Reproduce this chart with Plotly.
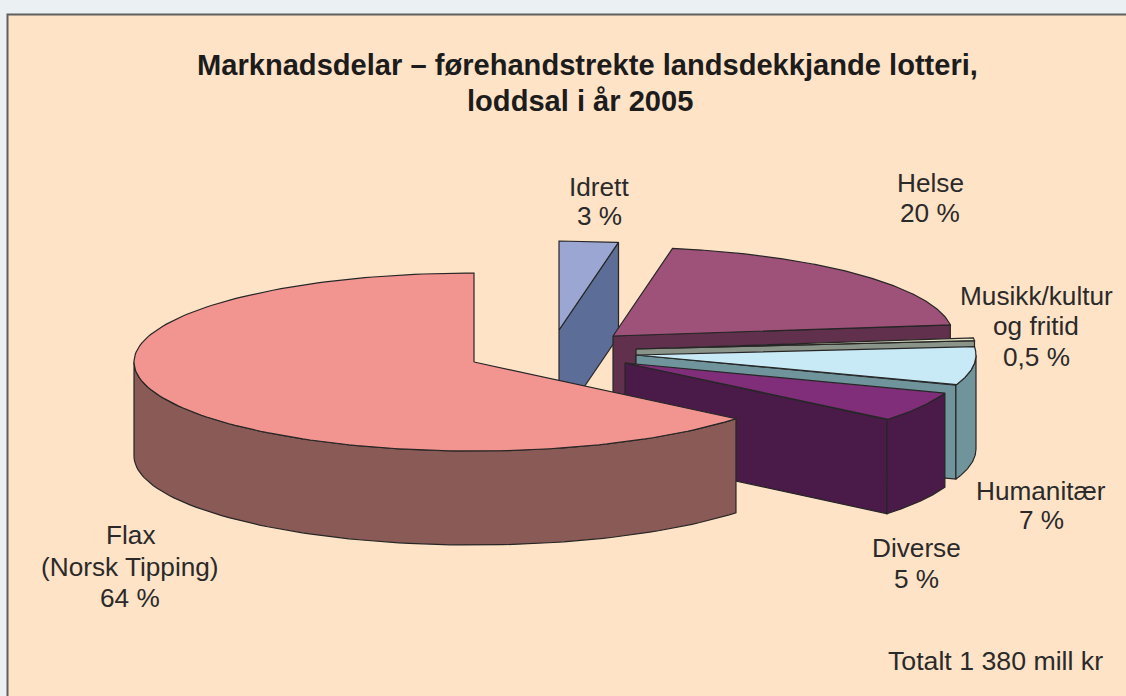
import math
import plotly.graph_objects as go

# ---- data ----
slice_names = ["Idrett", "Helse", "Musikk/kultur og fritid", "Humanitær", "Diverse", "Flax"]
slice_values = [2.8, 20.2, 0.5, 7.0, 5.5, 64.0]  # clockwise from 12 o'clock, share in percent

label_lines = [["Idrett", "3 %"], ["Helse", "20 %"], ["Musikk/kultur", "og fritid", "0,5 %"],
               ["Humanitær", "7 %"], ["Diverse", "5 %"], ["Flax", "(Norsk Tipping)", "64 %"]]
title_lines = ["<b>Marknadsdelar – førehandstrekte landsdekkjande lotteri,</b>",
               "<b>loddsal i år 2005</b>"]
note_text = "Totalt 1 380 mill kr"

# ---- styles / layout ----
top_colors = ["#9BA6D3", "#9F5279", "#E6E6C8", "#C8E9F6", "#802E79", "#F29591"]
side_colors = ["#5C6E97", "#61304C", "#8B9488", "#6F949C", "#4A1B49", "#8A5B56"]
centers = [(559, 330), (613, 336), (636, 349), (636, 355), (625, 363), (474, 362)]
label_x = [599, 930, 1036, 1041, 916, 130]
label_y = [[187, 216], [183, 213], [296, 326, 357], [491, 520], [548, 579], [535, 567, 598]]
title_x = [587, 580]
title_y = [65, 101]
RX, RY, DEPTH = 340.0, 89.0, 94.0
EDGE = "#262626"
FONT = "Liberation Sans"
W, H = 1126, 696


def pt(c, deg, drop=0.0):
    a = math.radians(deg)
    return c[0] + RX * math.cos(a), c[1] - RY * math.sin(a) + drop


def arc(c, a0, a1, drop=0.0, n=80):
    return [pt(c, a0 + (a1 - a0) * i / n, drop) for i in range(n + 1)]


def poly(fig, pts, color, name):
    xs = [p[0] for p in pts] + [pts[0][0]]
    ys = [p[1] for p in pts] + [pts[0][1]]
    fig.add_trace(go.Scatter(x=xs, y=ys, mode="lines", fill="toself", fillcolor=color,
                             line=dict(color=EDGE, width=1.2), name=name,
                             hoverinfo="name", showlegend=False))


fig = go.Figure()
total = sum(slice_values)
start = 90.0
for name, v, top, side, c in zip(slice_names, slice_values, top_colors, side_colors, centers):
    high = start
    low = start - v / total * 360.0
    start = low
    # cut face on the clockwise boundary, when it looks towards the viewer
    if math.cos(math.radians(low)) > 1e-6:
        e = pt(c, low)
        e2 = pt(c, low, DEPTH)
        poly(fig, [c, e, e2, (c[0], c[1] + DEPTH)], side, name)
    # outer wall: the part of the rim in the front half of the ellipse
    for lo, hi in ((-180.0, 0.0), (-540.0, -360.0)):
        a, b = max(low, lo), min(high, hi)
        if b > a:
            poly(fig, arc(c, a, b) + arc(c, b, a, DEPTH), side, name)
    # top face
    poly(fig, [c] + arc(c, low, high, n=160), top, name)

annotations = []
for t, x, y in zip(title_lines, title_x, title_y):
    annotations.append(dict(x=x, y=y, text=t, showarrow=False,
                            font=dict(family=FONT, size=29.1, color="#1c1c1c"),
                            xanchor="center", yanchor="middle"))
for lines, x, ys in zip(label_lines, label_x, label_y):
    for t, y in zip(lines, ys):
        annotations.append(dict(x=x, y=y, text=t, showarrow=False,
                                font=dict(family=FONT, size=26.2, color="#2a2a2a"),
                                xanchor="center", yanchor="middle"))
annotations.append(dict(x=995.5, y=661, text=note_text, showarrow=False,
                        font=dict(family=FONT, size=26.7, color="#2a2a2a"),
                        xanchor="center", yanchor="middle"))

fig.update_layout(
    width=W, height=H, margin=dict(l=0, r=0, t=0, b=0),
    paper_bgcolor="#EBF0F3", plot_bgcolor="rgba(0,0,0,0)",
    xaxis=dict(range=[0, W], visible=False, fixedrange=True),
    yaxis=dict(range=[H, 0], visible=False, fixedrange=True),
    annotations=annotations,
    shapes=[dict(type="rect", layer="below", x0=7.5, y0=14.5, x1=W + 20, y1=H + 20,
                 fillcolor="#FFE3C7", line=dict(color="#5f5f5f", width=2))],
)
fig.write_html("out.html", config=dict(displayModeBar=False),
               post_script="document.body.style.margin='0';document.body.style.overflow='hidden';")
